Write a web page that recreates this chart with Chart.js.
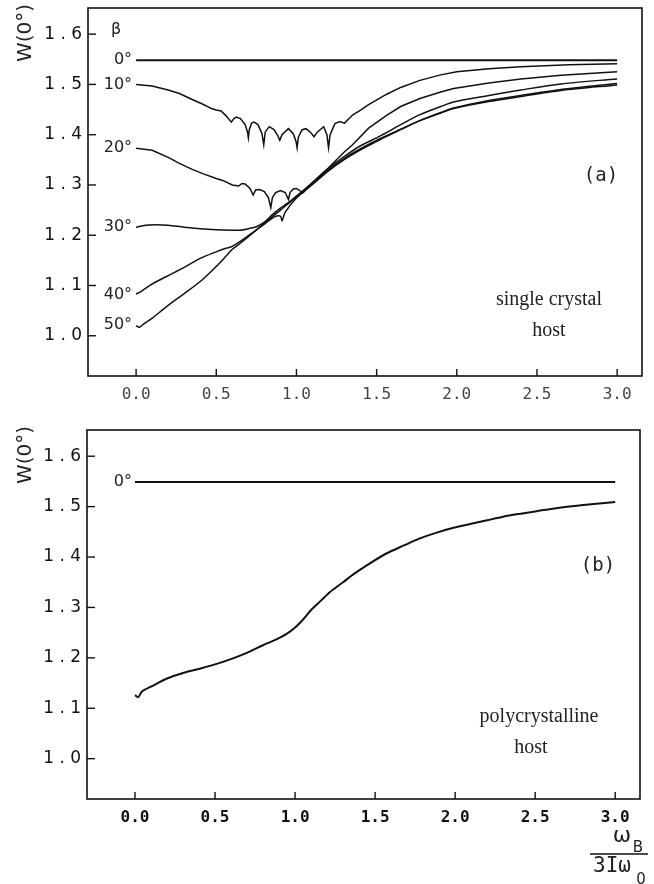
<!DOCTYPE html>
<html>
<head>
<meta charset="utf-8">
<script src="https://cdn.jsdelivr.net/npm/chart.js@4.4.0/dist/chart.umd.min.js"></script>
<style>
html, body { margin: 0; padding: 0; background: #fff; }
#wrap { position: relative; width: 654px; height: 884px; overflow: hidden; }
canvas { position: absolute; left: 0; }
#c1 { top: 0; }
#c2 { top: 420px; }
</style>
</head>
<body>
<div id="wrap">
  <canvas id="c1" width="654" height="420"></canvas>
  <canvas id="c2" width="654" height="464"></canvas>
</div>
<script>
// tick values
const xTicks = [0, 0.5, 1.0, 1.5, 2.0, 2.5, 3.0];
const yTicks = [1.0, 1.1, 1.2, 1.3, 1.4, 1.5, 1.6];

// (a) single crystal host, one curve per beta
const beta0 = [[0, 1.548], [3.0, 1.548]];
const beta10 = [
  [0, 1.500], [0.1, 1.497], [0.2, 1.489], [0.27, 1.482], [0.35, 1.470], [0.42, 1.460],
  [0.47, 1.452], [0.5, 1.449], [0.53, 1.447], [0.56, 1.438], [0.594, 1.425], [0.61, 1.432],
  [0.625, 1.435], [0.65, 1.432], [0.68, 1.420], [0.695, 1.405], [0.70, 1.394], [0.706, 1.410],
  [0.72, 1.423], [0.735, 1.425], [0.76, 1.420], [0.785, 1.402], [0.796, 1.380], [0.805, 1.405],
  [0.83, 1.416], [0.86, 1.410], [0.885, 1.397], [0.896, 1.389], [0.91, 1.400], [0.95, 1.412],
  [0.98, 1.402], [0.998, 1.386], [1.004, 1.374], [1.012, 1.395], [1.035, 1.410], [1.06, 1.412],
  [1.09, 1.404], [1.11, 1.396], [1.13, 1.405], [1.17, 1.416], [1.19, 1.400], [1.20, 1.374],
  [1.21, 1.400], [1.24, 1.422], [1.27, 1.426], [1.30, 1.423], [1.35, 1.439], [1.40, 1.449],
  [1.45, 1.460], [1.56, 1.480], [1.65, 1.494], [1.77, 1.508], [1.9, 1.519], [2.0, 1.525],
  [2.2, 1.531], [2.4, 1.535], [2.7, 1.539], [3.0, 1.541]
];
const beta20 = [
  [0, 1.373], [0.1, 1.369], [0.2, 1.355], [0.27, 1.343], [0.35, 1.331], [0.42, 1.322],
  [0.5, 1.313], [0.52, 1.311], [0.54, 1.309], [0.6, 1.300], [0.64, 1.298], [0.66, 1.303],
  [0.68, 1.302], [0.71, 1.293], [0.73, 1.280], [0.745, 1.290], [0.77, 1.291], [0.80, 1.287],
  [0.825, 1.275], [0.84, 1.255], [0.85, 1.275], [0.87, 1.285], [0.9, 1.289], [0.93, 1.285],
  [0.95, 1.271], [0.96, 1.285], [0.98, 1.292], [1.0, 1.293], [1.02, 1.289], [1.04, 1.284],
  [1.1, 1.305], [1.2, 1.334], [1.25, 1.350], [1.3, 1.366], [1.35, 1.380], [1.45, 1.413],
  [1.56, 1.438], [1.65, 1.456], [1.77, 1.472], [1.9, 1.485], [1.98, 1.492], [2.2, 1.503],
  [2.4, 1.511], [2.65, 1.518], [3.0, 1.525]
];
const beta30 = [
  [0, 1.216], [0.06, 1.220], [0.12, 1.221], [0.2, 1.220], [0.3, 1.216], [0.4, 1.213],
  [0.5, 1.211], [0.6, 1.210], [0.65, 1.210], [0.7, 1.213], [0.75, 1.217], [0.8, 1.226],
  [0.85, 1.241], [0.9, 1.254], [0.95, 1.265], [1.0, 1.278], [1.1, 1.305], [1.2, 1.333],
  [1.3, 1.357], [1.4, 1.378], [1.52, 1.397], [1.65, 1.420], [1.77, 1.440], [1.9, 1.456],
  [1.98, 1.465], [2.2, 1.478], [2.4, 1.489], [2.65, 1.501], [3.0, 1.511]
];
const beta40 = [
  [0, 1.083], [0.03, 1.088], [0.1, 1.103], [0.19, 1.118], [0.3, 1.136], [0.4, 1.154],
  [0.5, 1.167], [0.56, 1.174], [0.6, 1.178], [0.7, 1.199], [0.8, 1.222], [0.86, 1.236],
  [0.9, 1.238], [0.91, 1.229], [0.93, 1.246], [1.0, 1.274], [1.1, 1.301], [1.2, 1.328],
  [1.3, 1.351], [1.4, 1.370], [1.52, 1.390], [1.65, 1.410], [1.77, 1.428], [1.9, 1.444],
  [1.98, 1.453], [2.2, 1.468], [2.4, 1.478], [2.65, 1.490], [3.0, 1.502]
];
const beta50 = [
  [0, 1.020], [0.02, 1.017], [0.05, 1.024], [0.1, 1.035], [0.19, 1.058], [0.3, 1.084],
  [0.4, 1.108], [0.5, 1.138], [0.56, 1.158], [0.6, 1.172], [0.65, 1.184], [0.7, 1.197],
  [0.8, 1.224], [0.9, 1.250], [1.0, 1.276], [1.1, 1.303], [1.2, 1.330], [1.3, 1.353],
  [1.4, 1.372], [1.52, 1.392], [1.65, 1.411], [1.77, 1.428], [1.9, 1.443], [1.98, 1.452],
  [2.2, 1.466], [2.4, 1.476], [2.65, 1.488], [3.0, 1.499]
];

// (b) polycrystalline host
const poly0 = [[0, 1.549], [3.0, 1.549]];
const poly = [
  [0, 1.126], [0.02, 1.122], [0.04, 1.132], [0.056, 1.136], [0.12, 1.146], [0.2, 1.159],
  [0.3, 1.170], [0.41, 1.179], [0.52, 1.189], [0.62, 1.200], [0.72, 1.213], [0.8, 1.225],
  [0.88, 1.236], [0.95, 1.248], [1.0, 1.260], [1.05, 1.276], [1.1, 1.295], [1.16, 1.313],
  [1.22, 1.331], [1.3, 1.350], [1.37, 1.367], [1.47, 1.388], [1.57, 1.407], [1.68, 1.423],
  [1.78, 1.437], [1.88, 1.448], [1.99, 1.458], [2.1, 1.466], [2.2, 1.473], [2.3, 1.480],
  [2.41, 1.486], [2.51, 1.491], [2.61, 1.496], [2.8, 1.503], [3.0, 1.509]
];

const toXY = arr => arr.map(p => ({ x: p[0], y: p[1] }));

function line(data, width, tension) {
  return {
    data: toXY(data),
    showLine: true,
    borderColor: '#111',
    borderWidth: width,
    pointRadius: 0,
    tension: tension,
    fill: false
  };
}

// frame, inward ticks and the text notes
const decor = {
  id: 'decor',
  afterDraw(chart, args, opts) {
    const { ctx, chartArea: a, scales } = chart;
    ctx.save();
    ctx.strokeStyle = '#111';
    ctx.lineWidth = 1.6;
    ctx.strokeRect(a.left, a.top, a.right - a.left, a.bottom - a.top);
    ctx.lineWidth = 1.4;
    yTicks.forEach(v => {
      const py = scales.y.getPixelForValue(v);
      ctx.beginPath(); ctx.moveTo(a.left, py); ctx.lineTo(a.left + 8, py); ctx.stroke();
    });
    xTicks.forEach(v => {
      const px = scales.x.getPixelForValue(v);
      ctx.beginPath(); ctx.moveTo(px, a.bottom); ctx.lineTo(px, a.bottom - 7); ctx.stroke();
    });
    // y title
    ctx.fillStyle = '#222';
    ctx.font = '20px "DejaVu Sans"';
    ctx.textAlign = 'center';
    ctx.textBaseline = 'middle';
    ctx.save();
    ctx.translate(26, a.top + 25);
    ctx.rotate(-Math.PI / 2);
    ctx.fillText('W(0°)', 0, 0);
    ctx.restore();
    opts.notes.forEach(n => {
      ctx.font = n.font;
      ctx.fillStyle = n.color || '#222';
      ctx.textAlign = n.align || 'center';
      ctx.textBaseline = 'middle';
      const px = n.xv !== undefined ? scales.x.getPixelForValue(n.xv) + (n.dx || 0) : n.x;
      const py = n.yv !== undefined ? scales.y.getPixelForValue(n.yv) + (n.dy || 0) : n.y;
      ctx.fillText(n.text, px, py);
    });
    ctx.restore();
  }
};

function scalesFor(yWidth, xHeight, boldX) {
  return {
    x: {
      type: 'linear',
      min: -0.3,
      max: 3.155,
      afterBuildTicks: s => { s.ticks = xTicks.map(v => ({ value: v })); },
      afterFit: s => { s.height = xHeight; s.paddingLeft = 0; s.paddingRight = 0; },
      grid: { display: false, drawTicks: false },
      border: { display: false },
      ticks: {
        padding: 9,
        autoSkip: false,
        maxRotation: 0,
        color: boldX ? '#111' : '#444',
        font: { family: 'DejaVu Sans Mono', size: 16, weight: boldX ? 'bold' : 'normal' },
        callback: v => v.toFixed(1)
      }
    },
    y: {
      type: 'linear',
      min: 0.92,
      max: 1.652,
      afterBuildTicks: s => { s.ticks = yTicks.map(v => ({ value: v })); },
      afterFit: s => { s.width = yWidth; s.paddingTop = 0; s.paddingBottom = 0; },
      grid: { display: false, drawTicks: false },
      border: { display: false },
      ticks: {
        padding: 6,
        color: '#111',
        font: { family: 'DejaVu Sans', size: 17 },
        callback: v => v.toFixed(1).split('').join(' ')
      }
    }
  };
}

const degFont = '16px "DejaVu Sans"';
const serif = '20px "Liberation Serif"';

new Chart(document.getElementById('c1'), {
  type: 'scatter',
  data: {
    datasets: [
      line(beta0, 2, 0),
      line(beta10, 1.5, 0),
      line(beta20, 1.5, 0),
      line(beta30, 1.5, 0.3),
      line(beta40, 1.5, 0.3),
      line(beta50, 1.5, 0.3)
    ]
  },
  options: {
    responsive: false,
    animation: false,
    devicePixelRatio: 1,
    layout: { padding: { left: 0, top: 8, right: 12, bottom: 0 } },
    scales: scalesFor(88, 44, false),
    plugins: {
      legend: { display: false },
      tooltip: { enabled: false },
      decor: {
        notes: [
          { text: 'β', xv: 0, dx: -20, yv: 1.609, font: degFont },
          { text: '0°', xv: 0, dx: -4, yv: 1.548, font: degFont, align: 'right' },
          { text: '10°', xv: 0, dx: -4, yv: 1.500, font: degFont, align: 'right' },
          { text: '20°', xv: 0, dx: -4, yv: 1.373, font: degFont, align: 'right' },
          { text: '30°', xv: 0, dx: -4, yv: 1.216, font: degFont, align: 'right' },
          { text: '40°', xv: 0, dx: -4, yv: 1.082, font: degFont, align: 'right' },
          { text: '50°', xv: 0, dx: -4, yv: 1.022, font: degFont, align: 'right' },
          { text: '(a)', x: 601, y: 176, font: '19px "DejaVu Sans Mono"' },
          { text: 'single crystal', x: 549, y: 300, font: serif },
          { text: 'host', x: 549, y: 331, font: serif }
        ]
      }
    }
  },
  plugins: [decor]
});

new Chart(document.getElementById('c2'), {
  type: 'scatter',
  data: {
    datasets: [
      line(poly0, 2, 0),
      line(poly, 2, 0.3)
    ]
  },
  options: {
    responsive: false,
    animation: false,
    devicePixelRatio: 1,
    layout: { padding: { left: 0, top: 10, right: 14, bottom: 0 } },
    scales: scalesFor(87, 85, true),
    plugins: {
      legend: { display: false },
      tooltip: { enabled: false },
      decor: {
        notes: [
          { text: '0°', xv: 0, dx: -3, yv: 1.549, font: degFont, align: 'right' },
          { text: '(b)', x: 598, y: 146, font: '19px "DejaVu Sans Mono"' },
          { text: 'polycrystalline', x: 539, y: 297, font: serif },
          { text: 'host', x: 531, y: 328, font: serif },
          { text: 'ω', x: 622, y: 416, font: '22px "DejaVu Sans"' },
          { text: 'B', x: 638, y: 428, font: '15px "DejaVu Sans"' },
          { text: '3Iω', x: 612, y: 447, font: '21px "DejaVu Sans Mono"' },
          { text: '0', x: 641, y: 460, font: '15px "DejaVu Sans"' }
        ]
      }
    }
  },
  plugins: [decor, {
    id: 'fracline',
    afterDraw(chart) {
      const ctx = chart.ctx;
      ctx.save();
      ctx.strokeStyle = '#111';
      ctx.lineWidth = 1.3;
      ctx.beginPath(); ctx.moveTo(590, 434); ctx.lineTo(648, 434); ctx.stroke();
      ctx.restore();
    }
  }]
});
</script>
</body>
</html>
